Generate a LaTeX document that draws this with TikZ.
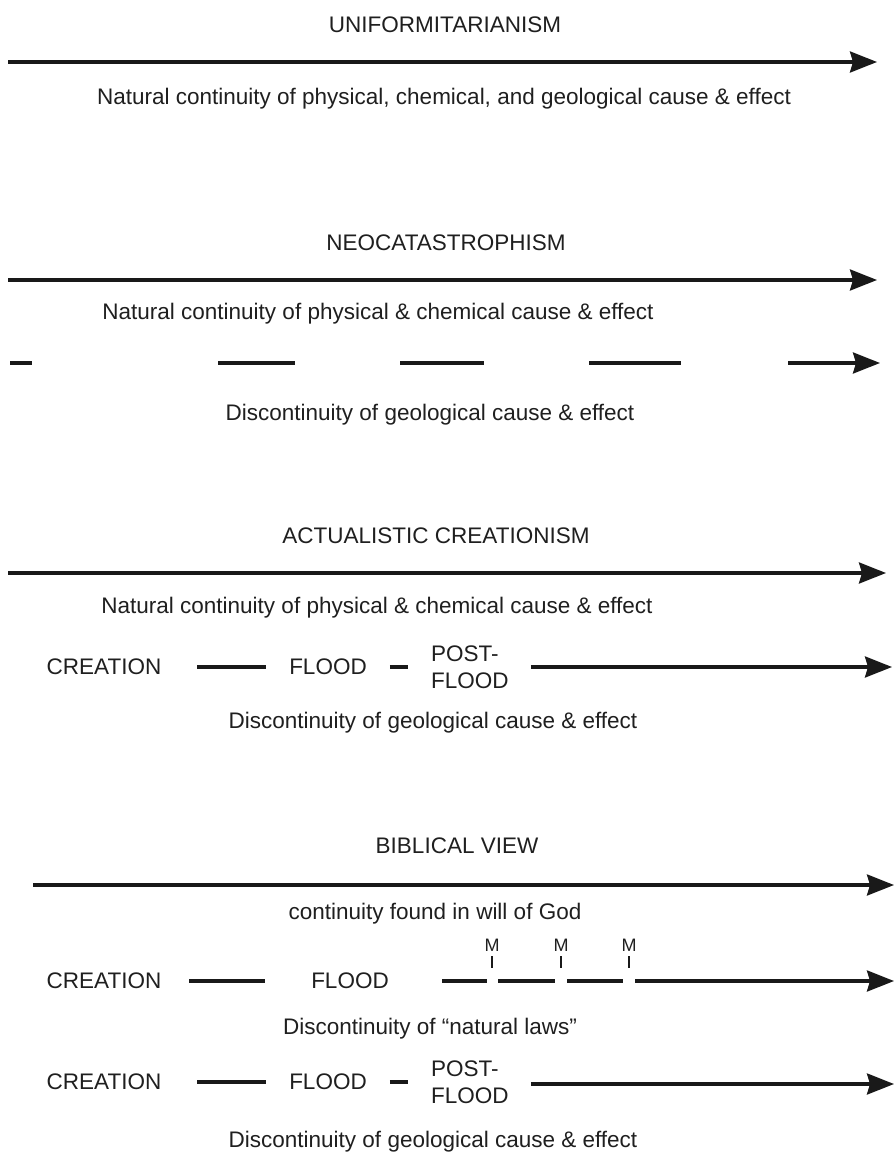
\documentclass[tikz,border=0pt]{standalone}
\usepackage{fontspec}
\setmainfont{Liberation Sans}
\usetikzlibrary{arrows.meta}
\begin{document}
\begin{tikzpicture}[x=1pt,y=-1pt,
  txt/.style={inner sep=0pt, font=\fontsize{22.5}{27}\selectfont, text=black!88},
  mtxt/.style={inner sep=0pt, font=\fontsize{18}{20}\selectfont, text=black!88},
  arr/.style={line width=3.2pt, draw=black!90, -{Stealth[length=27pt,width=21pt,inset=3pt]}},
  seg/.style={line width=3.2pt, draw=black!90},
  tickline/.style={line width=2.5pt, draw=black!90}]
\useasboundingbox[fill=white] (0,0) rectangle (895,1174);

% ---------- UNIFORMITARIANISM ----------
\node[txt] (t1) at (445,25) {UNIFORMITARIANISM};
\coordinate (a1s) at (8,62);
\coordinate (a1e) at (877,62);
\draw[arr] (a1s) -- (a1e);
\node[txt, anchor=mid] (d1) at (444,102) {Natural continuity of physical, chemical, and geological cause \& effect};

% ---------- NEOCATASTROPHISM ----------
\node[txt] (t2) at (446,243) {NEOCATASTROPHISM};
\coordinate (a2s) at (8,280);
\coordinate (a2e) at (877,280);
\draw[arr] (a2s) -- (a2e);
\node[txt, anchor=mid] (d2) at (378,317) {Natural continuity of physical \& chemical cause \& effect};
\coordinate (k1a) at (10,363);  \coordinate (k1b) at (32,363);
\coordinate (k2a) at (218,363); \coordinate (k2b) at (295,363);
\coordinate (k3a) at (400,363); \coordinate (k3b) at (484,363);
\coordinate (k4a) at (589,363); \coordinate (k4b) at (681,363);
\coordinate (k5a) at (788,363); \coordinate (k5b) at (880,363);
\draw[seg] (k1a) -- (k1b);
\draw[seg] (k2a) -- (k2b);
\draw[seg] (k3a) -- (k3b);
\draw[seg] (k4a) -- (k4b);
\draw[arr] (k5a) -- (k5b);
\node[txt, anchor=mid] (d2b) at (430,418) {Discontinuity of geological cause \& effect};

% ---------- ACTUALISTIC CREATIONISM ----------
\node[txt] (t3) at (436,536) {ACTUALISTIC CREATIONISM};
\coordinate (a3s) at (8,573);
\coordinate (a3e) at (886,573);
\draw[arr] (a3s) -- (a3e);
\node[txt, anchor=mid] (d3) at (377,611) {Natural continuity of physical \& chemical cause \& effect};
\node[txt] (cr3) at (104,667) {CREATION};
\node[txt] (fl3) at (328,667) {FLOOD};
\node[txt, anchor=west, align=left] (pf3) at (431,667) {POST-\\FLOOD};
\coordinate (e3) at (892,667);
\draw[seg] ([xshift=36pt]cr3.east) -- ([xshift=-23pt]fl3.west);
\draw[seg] ([xshift=23pt]fl3.east) -- ([xshift=-23pt]pf3.west);
\draw[arr] ([xshift=22pt]pf3.east |- e3) -- (e3);
\node[txt, anchor=mid] (d3b) at (433,726) {Discontinuity of geological cause \& effect};

% ---------- BIBLICAL VIEW ----------
\node[txt] (t4) at (457,846) {BIBLICAL VIEW};
\coordinate (a4s) at (33,885);
\coordinate (a4e) at (894,885);
\draw[arr] (a4s) -- (a4e);
\node[txt, anchor=mid] (d4) at (435,917) {continuity found in will of God};
\node[txt] (cr4) at (104,981) {CREATION};
\node[txt] (fl4) at (350,981) {FLOOD};
\node[mtxt] (m1) at (492,945) {M};
\node[mtxt] (m2) at (561,945) {M};
\node[mtxt] (m3) at (629,945) {M};
\draw[tickline] ([yshift=-5pt]m1.south) -- ++(0,12);
\draw[tickline] ([yshift=-5pt]m2.south) -- ++(0,12);
\draw[tickline] ([yshift=-5pt]m3.south) -- ++(0,12);
\coordinate (b1) at (442,981);
\coordinate (b2) at (487,981);
\coordinate (b3) at (498,981);
\coordinate (b4) at (555,981);
\coordinate (b5) at (567,981);
\coordinate (b6) at (623,981);
\coordinate (b7) at (635,981);
\coordinate (b8) at (894,981);
\draw[seg] ([xshift=28pt]cr4.east) -- ([xshift=-46pt]fl4.west);
\draw[seg] (b1) -- (b2);
\draw[seg] (b3) -- (b4);
\draw[seg] (b5) -- (b6);
\draw[arr] (b7) -- (b8);
\node[txt, anchor=mid] (d4b) at (430,1032) {Discontinuity of “natural laws”};

\node[txt] (cr5) at (104,1082) {CREATION};
\node[txt] (fl5) at (328,1082) {FLOOD};
\node[txt, anchor=west, align=left] (pf5) at (431,1082) {POST-\\FLOOD};
\coordinate (e5) at (894,1084);
\draw[seg] ([xshift=36pt]cr5.east) -- ([xshift=-23pt]fl5.west);
\draw[seg] ([xshift=23pt]fl5.east) -- ([xshift=-23pt]pf5.west);
\draw[arr] ([xshift=22pt]pf5.east |- e5) -- (e5);
\node[txt, anchor=mid] (d5) at (433,1145) {Discontinuity of geological cause \& effect};
\end{tikzpicture}
\end{document}
